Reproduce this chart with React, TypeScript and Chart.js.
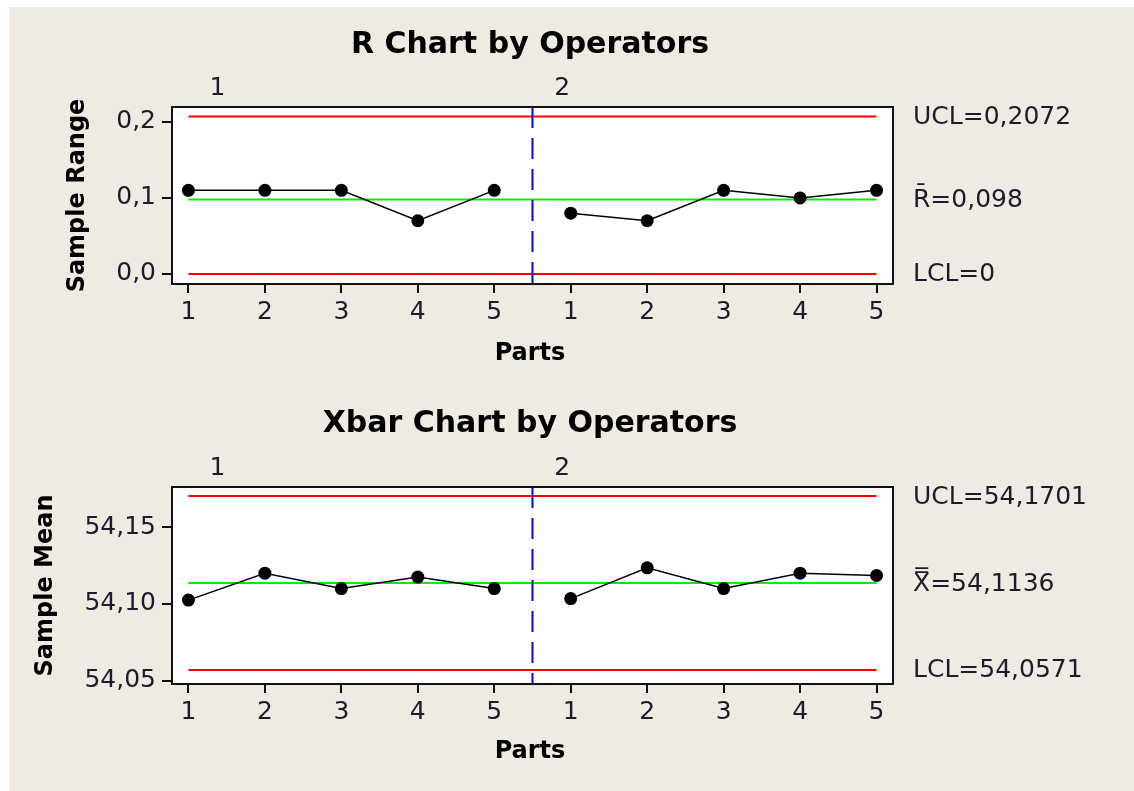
import React, { useEffect, useRef } from "react";
import { Chart, registerables } from "chart.js";

Chart.register(...registerables);

// ---------- data ----------
const partLabels = ["1", "2", "3", "4", "5", "1", "2", "3", "4", "5"];
const operatorLabels = ["1", "2"];

const rangeOp1 = [0.11, 0.11, 0.11, 0.07, 0.11];
const rangeOp2 = [0.08, 0.07, 0.11, 0.1, 0.11];
const rUCL = 0.2072;
const rCenter = 0.098;
const rLCL = 0;
const rTicks = [0, 0.1, 0.2];
const rLimitLabels = ["UCL=0,2072", "R\u0304=0,098", "LCL=0"];

const meanOp1 = [54.1025, 54.12, 54.11, 54.1175, 54.11];
const meanOp2 = [54.1035, 54.1235, 54.11, 54.12, 54.1185];
const xUCL = 54.1701;
const xCenter = 54.1136;
const xLCL = 54.0571;
const xTicks = [54.05, 54.1, 54.15];
const xLimitLabels = ["UCL=54,1701", "X\u033F=54,1136", "LCL=54,0571"];

const FONT = '"DejaVu Sans", Verdana, sans-serif';
const TEXT = "#1b1b2b";

type Spec = {
  top: number;
  height: number;
  op1: number[];
  op2: number[];
  ucl: number;
  center: number;
  lcl: number;
  yMin: number;
  yMax: number;
  yTicks: number[];
  decimals: number;
  limitLabels: string[];
  title: string;
  titleY: number;
  yTitle: string;
  yTitleX: number;
  xTitleY: number;
  groupY: number;
  padTop: number;
  padBottom: number;
};

const decorPlugin = {
  id: "decor",
  beforeDraw(chart: any) {
    const { ctx, chartArea: a } = chart;
    ctx.save();
    ctx.fillStyle = "#ffffff";
    ctx.fillRect(a.left, a.top, a.right - a.left, a.bottom - a.top);
    ctx.restore();
  },
  afterDraw(chart: any, _args: any, o: any) {
    const { ctx, chartArea: a } = chart;
    const xs = chart.scales.x;
    const ys = chart.scales.y;
    ctx.save();
    // frame
    ctx.strokeStyle = "#111";
    ctx.lineWidth = 2;
    ctx.strokeRect(a.left, a.top, a.right - a.left, a.bottom - a.top);

    // title
    ctx.fillStyle = "#000";
    ctx.textAlign = "center";
    ctx.textBaseline = "alphabetic";
    ctx.font = `bold 30px ${FONT}`;
    ctx.fillText(o.title, 530, o.titleY);

    // x title
    ctx.font = `bold 24px ${FONT}`;
    ctx.fillText("Parts", 530, o.xTitleY);

    // y title (rotated)
    ctx.save();
    ctx.translate(o.yTitleX, (a.top + a.bottom) / 2);
    ctx.rotate(-Math.PI / 2);
    ctx.textAlign = "center";
    ctx.fillText(o.yTitle, 0, 0);
    ctx.restore();

    // group labels
    ctx.fillStyle = TEXT;
    ctx.font = `25px ${FONT}`;
    ctx.textAlign = "center";
    const gx = [0.38, 4.89];
    operatorLabels.forEach((t, i) => {
      ctx.fillText(t, xs.getPixelForValue(gx[i]), o.groupY);
    });

    // limit labels
    ctx.textAlign = "left";
    ctx.textBaseline = "middle";
    const vals = [o.ucl, o.center, o.lcl];
    o.limitLabels.forEach((t: string, i: number) => {
      ctx.fillText(t, 913, ys.getPixelForValue(vals[i]) + 1);
    });
    ctx.restore();
  },
};

function buildConfig(s: Spec): any {
  const n1 = s.op1.length;
  const last = partLabels.length - 1;
  const pts = (arr: number[], off: number) => arr.map((v, i) => ({ x: i + off, y: v }));
  const hline = (v: number) => [
    { x: 0, y: v },
    { x: last, y: v },
  ];
  const dataStyle = {
    borderColor: "#000",
    borderWidth: 1.5,
    pointRadius: 6.5,
    pointBackgroundColor: "#000",
    pointBorderWidth: 0,
    pointHoverRadius: 6.5,
    tension: 0,
    order: 0,
  };
  const limStyle = (c: string) => ({
    borderColor: c,
    borderWidth: 2,
    pointRadius: 0,
    pointHoverRadius: 0,
    order: 2,
  });
  return {
    type: "line",
    data: {
      datasets: [
        { label: "Operator 1", data: pts(s.op1, 0), ...dataStyle },
        { label: "Operator 2", data: pts(s.op2, n1), ...dataStyle },
        {
          label: "divider",
          data: [
            { x: n1 - 0.5, y: s.yMax },
            { x: n1 - 0.5, y: s.yMin },
          ],
          borderColor: "#0000ff",
          borderWidth: 2,
          borderDash: [21, 10],
          pointRadius: 0,
          pointHoverRadius: 0,
          order: 1,
        },
        { label: "UCL", data: hline(s.ucl), ...limStyle("#ff0000") },
        { label: "Center", data: hline(s.center), ...limStyle("#00ee00") },
        { label: "LCL", data: hline(s.lcl), ...limStyle("#ff0000") },
      ],
    },
    options: {
      responsive: false,
      maintainAspectRatio: false,
      animation: false,
      events: [],
      layout: { padding: { left: 72, right: 241, top: s.padTop, bottom: s.padBottom } },
      plugins: {
        legend: { display: false },
        tooltip: { enabled: false },
        decor: {
          title: s.title,
          titleY: s.titleY,
          yTitle: s.yTitle,
          yTitleX: s.yTitleX,
          xTitleY: s.xTitleY,
          groupY: s.groupY,
          ucl: s.ucl,
          center: s.center,
          lcl: s.lcl,
          limitLabels: s.limitLabels,
        },
      },
      scales: {
        x: {
          type: "linear",
          min: -0.215,
          max: last + 0.215,
          afterBuildTicks: (sc: any) => {
            sc.ticks = partLabels.map((_, i) => ({ value: i }));
          },
          afterFit: (sc: any) => {
            sc.height = 60;
          },
          ticks: {
            autoSkip: false,
            maxRotation: 0,
            padding: 4,
            color: TEXT,
            font: { family: FONT, size: 25 },
            callback: (_v: any, i: number) => partLabels[i],
          },
          grid: { drawOnChartArea: false, drawTicks: true, tickLength: 9, color: "#111", lineWidth: 2 },
          border: { display: false },
        },
        y: {
          type: "linear",
          min: s.yMin,
          max: s.yMax,
          afterBuildTicks: (sc: any) => {
            sc.ticks = s.yTicks.map((v) => ({ value: v }));
          },
          afterFit: (sc: any) => {
            sc.width = 100;
          },
          ticks: {
            padding: 6,
            color: TEXT,
            font: { family: FONT, size: 25 },
            callback: (v: number) => Number(v).toFixed(s.decimals).replace(".", ","),
          },
          grid: { drawOnChartArea: false, drawTicks: true, tickLength: 10, color: "#111", lineWidth: 2 },
          border: { display: false },
        },
      },
    },
    plugins: [decorPlugin],
  };
}

const rSpec: Spec = {
  top: 0,
  height: 395,
  op1: rangeOp1,
  op2: rangeOp2,
  ucl: rUCL,
  center: rCenter,
  lcl: rLCL,
  yMin: -0.0132,
  yMax: 0.2197,
  yTicks: rTicks,
  decimals: 1,
  limitLabels: rLimitLabels,
  title: "R Chart by Operators",
  titleY: 53,
  yTitle: "Sample Range",
  yTitleX: 84,
  xTitleY: 360,
  groupY: 95,
  padTop: 107,
  padBottom: 51,
};

const xSpec: Spec = {
  top: 395,
  height: 396,
  op1: meanOp1,
  op2: meanOp2,
  ucl: xUCL,
  center: xCenter,
  lcl: xLCL,
  yMin: 54.048,
  yMax: 54.176,
  yTicks: xTicks,
  decimals: 2,
  limitLabels: xLimitLabels,
  title: "Xbar Chart by Operators",
  titleY: 37,
  yTitle: "Sample Mean",
  yTitleX: 52,
  xTitleY: 363,
  groupY: 80,
  padTop: 92,
  padBottom: 47,
};

function ControlChart({ spec }: { spec: Spec }) {
  const ref = useRef<HTMLCanvasElement>(null);
  useEffect(() => {
    if (!ref.current) return;
    const chart = new Chart(ref.current, buildConfig(spec));
    return () => chart.destroy();
  }, [spec]);
  return (
    <canvas
      ref={ref}
      width={1134}
      height={spec.height}
      style={{ position: "absolute", left: 0, top: spec.top, width: 1134, height: spec.height }}
    />
  );
}

export default function App() {
  return (
    <div
      style={{
        position: "fixed",
        left: 0,
        top: 0,
        width: 1134,
        height: 791,
        background: "#ffffff",
        overflow: "hidden",
      }}
    >
      <div
        style={{
          position: "absolute",
          left: 9,
          top: 7,
          right: 0,
          bottom: 0,
          background: "#EFEBE2",
        }}
      />
      <ControlChart spec={rSpec} />
      <ControlChart spec={xSpec} />
    </div>
  );
}
